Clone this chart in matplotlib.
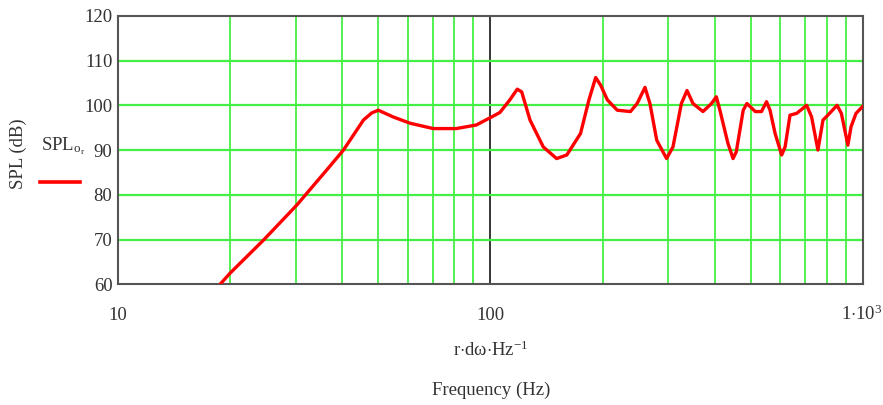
import matplotlib
matplotlib.use('Agg')
import matplotlib.pyplot as plt
import numpy as np

plt.rcParams['font.family'] = ['Liberation Serif', 'DejaVu Serif']
plt.rcParams['mathtext.fontset'] = 'custom'
plt.rcParams['mathtext.rm'] = 'Liberation Serif'
plt.rcParams['mathtext.it'] = 'Liberation Serif:italic'

# sound pressure level response, Hz vs dB
freq = [18.8, 20.0, 24.6, 30.2, 36.3, 40.3, 45.6, 48.0, 50.0, 54.8, 60.8, 70.2, 81.0,
        91.6, 101.8, 106.0, 112.7, 118.0, 121.3, 127.7, 138.6, 150.5, 160.3,
        174.5, 183.8, 191.6, 197.6, 206.0, 219.0, 237.6, 247.6, 259.9, 268.0,
        279.5, 297.0, 309.0, 325.5, 337.0, 349.7, 372.0, 392.0, 404.0, 413.0,
        434.0, 448.0, 457.0, 477.0, 488.0, 514.0, 534.0, 551.0, 563.0, 581.0,
        605.0, 618.0, 637.0, 664.0, 706.0, 728.0, 757.0, 781.0, 805.0, 852.0,
        875.0, 911.0, 929.0, 958.0, 1000.0]
spl = [60.0, 62.5, 69.9, 77.7, 85.5, 90.0, 96.7, 98.3, 98.9, 97.4, 96.0, 94.8, 94.8,
       95.6, 97.6, 98.4, 101.2, 103.6, 103.0, 96.7, 90.7, 88.1, 88.9,
       93.7, 101.2, 106.2, 104.5, 101.2, 98.9, 98.6, 100.4, 104.0, 100.4,
       92.2, 88.1, 90.7, 100.4, 103.3, 100.4, 98.6, 100.4, 101.9, 98.9,
       91.5, 88.1, 89.6, 98.9, 100.4, 98.6, 98.6, 100.8, 98.9, 93.7,
       88.9, 90.7, 97.8, 98.2, 100.0, 97.4, 90.0, 96.7, 97.8, 100.0,
       98.2, 91.1, 95.2, 98.2, 99.8]

y_ticks = [60, 70, 80, 90, 100, 110, 120]
x_ticks = [10, 100]
x_tick_labels = ['10', '100']

fig = plt.figure(figsize=(8.83, 4.05), dpi=100)
ax = fig.add_axes([0.1336, 0.298, 0.8437, 0.663])

ax.set_xscale('log')
ax.set_xlim(10, 1000)
ax.set_ylim(60, 120)

# grid: green at every minor decade step, black line at 100 Hz
for dec in [10, 100]:
    for m in range(2, 10):
        ax.axvline(dec * m, color='#22ee22', lw=1.1, zorder=1)
ax.axvline(100, color='black', lw=1.1, zorder=1)
for yv in y_ticks[1:-1]:
    ax.axhline(yv, color='#44ee44', lw=1.6, zorder=1)

ax.plot(freq, spl, color='#ff0000', lw=2.4, zorder=3,
        solid_capstyle='round', solid_joinstyle='round')

for s in ax.spines.values():
    s.set_color('#555555')
    s.set_linewidth(1.5)

ax.set_yticks(y_ticks)
ax.set_yticklabels([str(v) for v in y_ticks], fontsize=13.5)
ax.set_xticks(x_ticks)
ax.set_xticklabels(x_tick_labels, fontsize=13.5)
ax.minorticks_off()
ax.tick_params(axis='both', length=0, pad=4, colors='#333333')
ax.tick_params(axis='x', pad=16)

# last decade label sits flush with the right edge, on the same baseline
fig.text(0.999, 0.211, '1$\\cdot$10$^{3}$', fontsize=13.5,
         ha='right', va='baseline', color='#333333')

fig.text(0.021, 0.62, 'SPL (dB)', rotation=90, fontsize=13.5,
         ha='center', va='center', color='#333333')
fig.text(0.046, 0.638, 'SPL$_{\\mathrm{o}_{\\mathrm{r}}}$', fontsize=13.5,
         ha='left', va='center', color='#333333')
fig.add_artist(plt.Line2D([0.045, 0.091], [0.551, 0.551], color='#ff0000',
                          lw=2.6, transform=fig.transFigure))

fig.text(0.556, 0.135, 'r$\\cdot$d\u03c9$\\cdot$Hz$^{-1}$', fontsize=13.5,
         ha='center', va='center', color='#333333')
fig.text(0.556, 0.035, 'Frequency (Hz)', fontsize=13.5,
         ha='center', va='center', color='#333333')

fig.savefig('out.png', dpi=100)
